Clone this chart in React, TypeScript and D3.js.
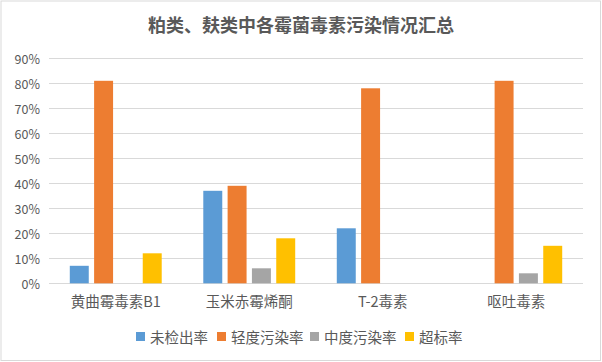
import React from 'react';
import * as d3 from 'd3';

const categories = ['黄曲霉毒素B1', '玉米赤霉烯酮', 'T-2毒素', '呕吐毒素'];
const seriesNames = ['未检出率', '轻度污染率', '中度污染率', '超标率'];
const seriesColors = ['#5B9BD5', '#ED7D31', '#A5A5A5', '#FFC000'];
// values in percent, one array per series
const notDetected = [7, 37, 22, 0];
const lightPollution = [81, 39, 78, 81];
const midPollution = [0, 6, 0, 4];
const overLimit = [12, 18, 0, 15];
const yTicks = [0, 10, 20, 30, 40, 50, 60, 70, 80, 90];

const W = 602, H = 362;
const FONT = '"Noto Sans CJK SC", "Noto Sans", sans-serif';

const App = () => {
  const series = [notDetected, lightPollution, midPollution, overLimit];

  const x0 = d3.scaleBand().domain(categories).range([49, 583]).padding(0);
  const x1 = d3.scaleBand()
    .domain(seriesNames)
    .range([0, x0.bandwidth()])
    .paddingInner(0.22)
    .paddingOuter(0.855);
  const y = d3.scaleLinear().domain([0, 90]).range([283.3, 58.3]);

  // legend: swatch + label, laid out left to right
  const legendX = [136, 217, 310, 405];

  return (
    <svg width={W} height={H} style={{ position: 'absolute', left: 0, top: 0 }} fontFamily={FONT}>
      <rect x={1} y={1} width={W - 2.5} height={H - 2.5} fill="#fff" stroke="#d9d9d9" />
      <text x={301} y={24} textAnchor="middle" dominantBaseline="central"
        fontSize={18} fontWeight="bold" fill="#595959">
        粕类、麸类中各霉菌毒素污染情况汇总
      </text>

      {/* grid + y labels */}
      {yTicks.map(t => (
        <g key={t}>
          <line x1={49} x2={583} y1={Math.round(y(t)) + 0.5} y2={Math.round(y(t)) + 0.5} stroke="#d9d9d9" />
          <text x={40} y={y(t)} textAnchor="end" dominantBaseline="central" fontSize={12.5} fill="#595959">
            {t}%
          </text>
        </g>
      ))}

      {/* bars */}
      {categories.map((c, ci) => (
        <g key={c} transform={`translate(${x0(c)},0)`}>
          {series.map((s, si) => s[ci] > 0 && (
            <rect key={si}
              x={x1(seriesNames[si])}
              y={y(s[ci])}
              width={x1.bandwidth()}
              height={y(0) - y(s[ci])}
              fill={seriesColors[si]} />
          ))}
        </g>
      ))}

      {/* x labels */}
      {categories.map(c => (
        <text key={c} x={(x0(c) ?? 0) + x0.bandwidth() / 2} y={300} textAnchor="middle"
          dominantBaseline="central" fontSize={14.5} fill="#595959">
          {c}
        </text>
      ))}

      {seriesNames.map((n, i) => (
        <g key={n}>
          <rect x={legendX[i]} y={332} width={9} height={9} fill={seriesColors[i]} />
          <text x={legendX[i] + 14} y={336.5} dominantBaseline="central" fontSize={14.5} fill="#595959">{n}</text>
        </g>
      ))}
    </svg>
  );
};

export default App;
